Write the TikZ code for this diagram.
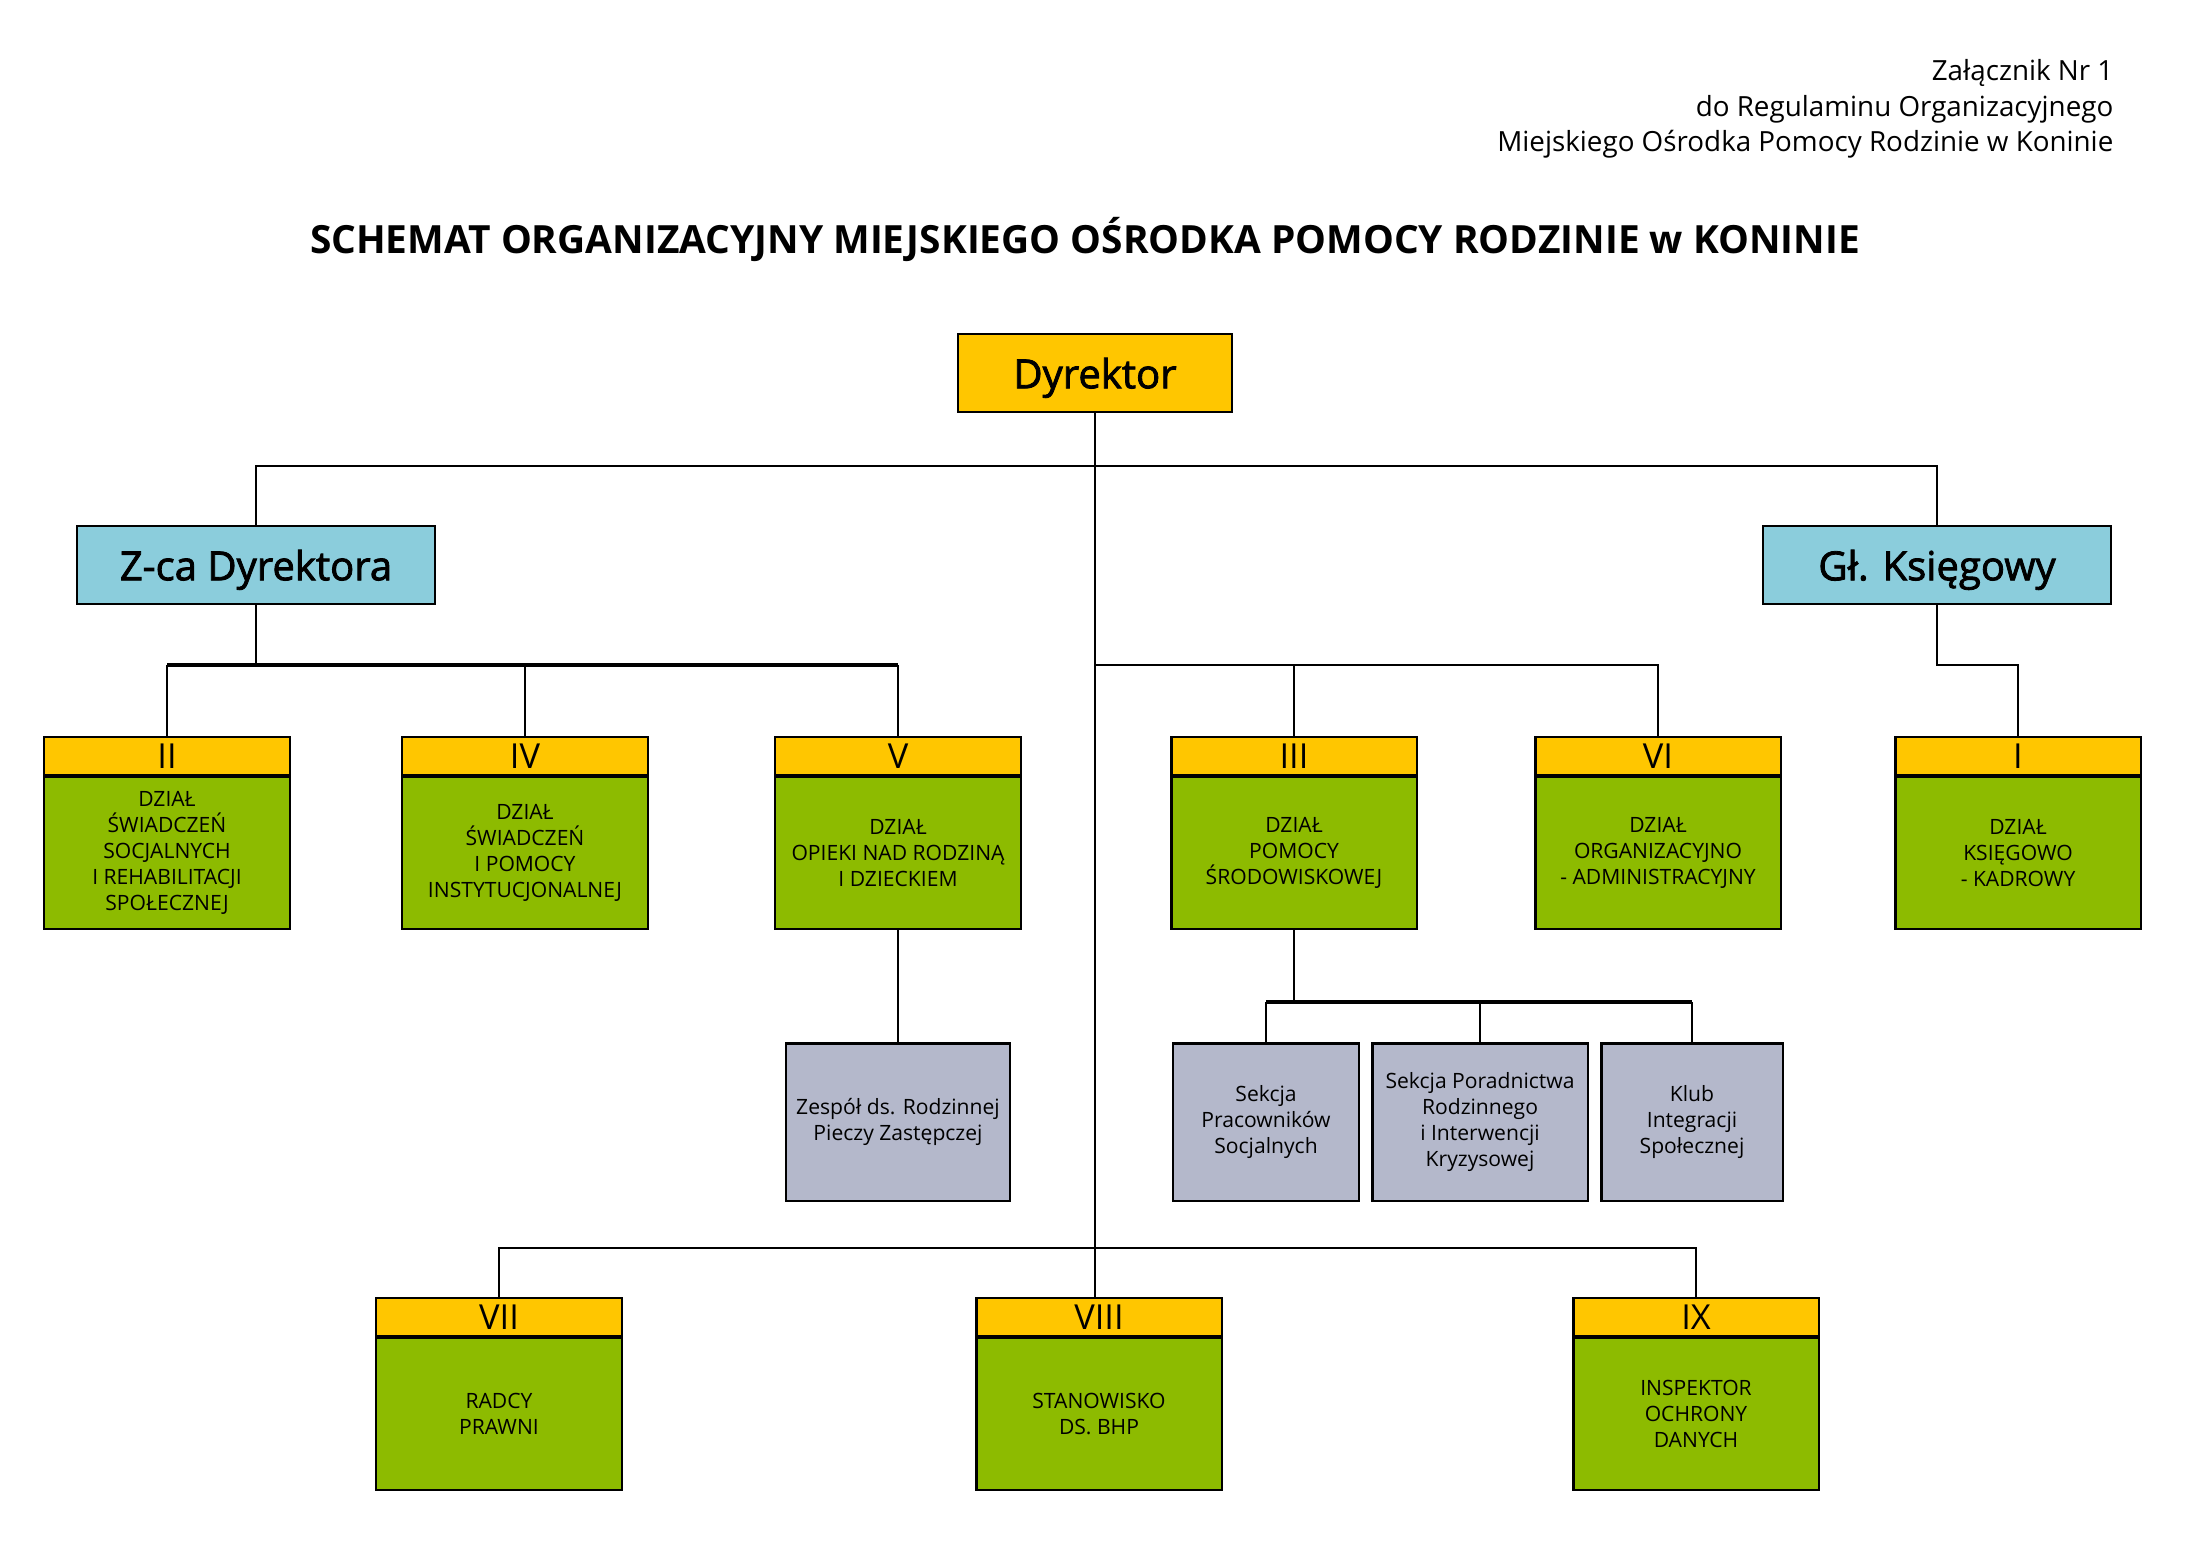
\documentclass[tikz,border=0pt]{standalone}
\usepackage{fontspec}
\setmainfont{Open Sans}
\newfontfamily\semib{Open Sans}[BoldFont={Open Sans}, BoldFeatures={FakeBold=2}]
\usetikzlibrary{positioning,calc}

\definecolor{hdrorange}{HTML}{FFC600}
\definecolor{dzgreen}{HTML}{8DBB00}
\definecolor{chiefblue}{HTML}{8BCDDC}
\definecolor{sekgray}{HTML}{B4B8CB}
\newcommand{\setfs}[2]{\fontsize{#1}{#2}\selectfont}

\begin{document}
\begin{tikzpicture}[
    x=0.01cm, y=-0.01cm,
    box/.style={draw, line width=0.6pt, align=center, inner sep=1pt},
    hdr/.style={box, fill=hdrorange, minimum width=2.45cm, minimum height=0.38cm,
                font=\setfs{9.8}{10}},
    dzial/.style={box, fill=dzgreen, minimum width=2.45cm, minimum height=1.52cm,
                  font=\setfs{6}{7.4}},
    chief/.style={box, minimum height=0.78cm, text depth=0pt, font=\semib\bfseries\setfs{11.4}{13}},
    sekcja/.style={box, fill=sekgray, minimum height=1.57cm, font=\setfs{6}{7.4}},
    conn/.style={line width=0.75pt},
    bus/.style={line width=1.3pt},
  ]
  \useasboundingbox (0,0) rectangle (2192,1550);

  % ============ Naglowek ============
  \node[anchor=east, align=right, inner sep=0pt, font=\setfs{7.9}{10.1}] (zal) at (2114,109)
    {Załącznik Nr 1\\do Regulaminu Organizacyjnego\\Miejskiego Ośrodka Pomocy Rodzinie w Koninie};
  \node[font=\bfseries\setfs{11.05}{13}] (title) at (1085,239)
    {SCHEMAT ORGANIZACYJNY MIEJSKIEGO OŚRODKA POMOCY RODZINIE w KONINIE};

  % ============ Kierownictwo ============
  \node[chief, fill=hdrorange, minimum width=2.74cm] (dyr) at (1095,373) {Dyrektor};
  \node[chief, fill=chiefblue, minimum width=3.58cm] (zca) at (256,565) {Z-ca Dyrektora};
  \node[chief, fill=chiefblue, minimum width=3.47cm] (gk) at (1937,565) {Gł. Księgowy};

  % ============ Dzialy ============
  \node[hdr] (h2) at (167,756) {II};
  \node[dzial, below=0pt of h2] (b2) {DZIAŁ\\ŚWIADCZEŃ\\SOCJALNYCH\\I REHABILITACJI\\SPOŁECZNEJ};
  \node[hdr] (h4) at (525,756) {IV};
  \node[dzial, below=0pt of h4] (b4) {DZIAŁ\\ŚWIADCZEŃ\\I POMOCY\\INSTYTUCJONALNEJ};
  \node[hdr] (h5) at (898,756) {V};
  \node[dzial, below=0pt of h5] (b5) {DZIAŁ\\OPIEKI NAD RODZINĄ\\I DZIECKIEM};
  \node[hdr] (h3) at (1294,756) {III};
  \node[dzial, below=0pt of h3] (b3) {DZIAŁ\\POMOCY\\ŚRODOWISKOWEJ};
  \node[hdr] (h6) at (1658,756) {VI};
  \node[dzial, below=0pt of h6] (b6) {DZIAŁ\\ORGANIZACYJNO\\- ADMINISTRACYJNY};
  \node[hdr] (h1) at (2018,756) {I};
  \node[dzial, below=0pt of h1] (b1) {DZIAŁ\\KSIĘGOWO\\- KADROWY};

  % ============ Sekcje i zespol ============
  \node[sekcja, minimum width=2.24cm] (zesp) at (898,1122) {Zespół ds. Rodzinnej\\Pieczy Zastępczej};
  \node[sekcja, minimum width=1.86cm] (spr) at (1266,1122) {Sekcja\\Pracowników\\Socjalnych};
  \node[sekcja, minimum width=2.15cm] (spo) at (1480,1122) {Sekcja Poradnictwa\\Rodzinnego\\i Interwencji\\Kryzysowej};
  \node[sekcja, minimum width=1.81cm] (klub) at (1692,1122) {Klub\\Integracji\\Społecznej};

  % ============ Stanowiska (dol) ============
  \node[hdr] (h7) at (499,1317) {VII};
  \node[dzial, below=0pt of h7] (b7) {RADCY\\PRAWNI};
  \node[hdr] (h8) at (1099,1317) {VIII};
  \node[dzial, below=0pt of h8] (b8) {STANOWISKO\\DS. BHP};
  \node[hdr] (h9) at (1696,1317) {IX};
  \node[dzial, below=0pt of h9] (b9) {INSPEKTOR\\OCHRONY\\DANYCH};

  % ============ Polaczenia ============
  \coordinate (topbus) at (1095,466);
  \coordinate (zbus) at (256,665);
  \coordinate (rbus) at (1095,665);
  \coordinate (sbus) at (1294,1002);
  \coordinate (lbus) at (1095,1248);

  \draw[conn] (dyr.south) -- (dyr.south |- h8.north);
  \draw[conn] (zca.north) |- (topbus) -| (gk.north);

  \draw[conn] (zca.south) -- (zbus);
  \draw[bus] (h2.north |- zbus) -- (h5.north |- zbus);
  \draw[conn] (h2.north |- zbus) -- (h2.north);
  \draw[conn] (h4.north |- zbus) -- (h4.north);
  \draw[conn] (h5.north |- zbus) -- (h5.north);

  \draw[conn] (rbus) -| (h6.north);
  \draw[conn] (h3.north |- rbus) -- (h3.north);
  \draw[conn] (gk.south) |- (h1.north |- rbus) -- (h1.north);

  \draw[conn] (b5.south) -- (zesp.north);

  \draw[conn] (b3.south) -- (sbus);
  \draw[bus] (spr.north |- sbus) -- (klub.north |- sbus);
  \draw[conn] (spr.north |- sbus) -- (spr.north);
  \draw[conn] (spo.north |- sbus) -- (spo.north);
  \draw[conn] (klub.north |- sbus) -- (klub.north);

  \draw[conn] (h7.north) |- (lbus) -| (h9.north);

\end{tikzpicture}
\end{document}
